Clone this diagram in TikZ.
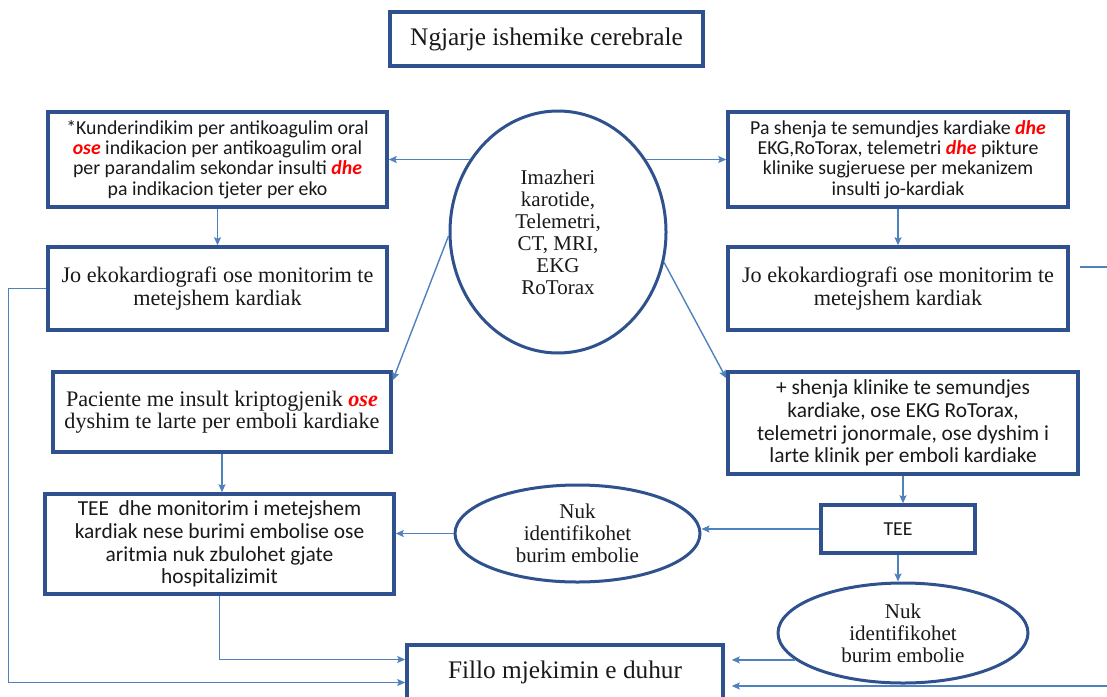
\documentclass[tikz,border=0pt]{standalone}
\usepackage{fontspec}
\setmainfont{Liberation Serif}
\newfontfamily\calfont{Carlito}
\usetikzlibrary{shapes.geometric, arrows.meta}
\definecolor{boxblue}{RGB}{47, 82, 143}
\definecolor{linkblue}{RGB}{79, 129, 189}
\definecolor{inkgray}{RGB}{25, 25, 25}
\newcommand{\redword}[1]{\textcolor{red}{\textbf{\textit{#1}}}}
\newcommand{\serifbig}{\fontsize{25.3}{28}\selectfont}
\newcommand{\serifmid}{\fontsize{22.2}{22.5}\selectfont}
\newcommand{\serifoval}{\fontsize{21}{22}\selectfont}
\newcommand{\sansmid}{\calfont\fontsize{19.8}{20.3}\selectfont}
\newcommand{\sanswide}{\calfont\fontsize{21.4}{22.8}\selectfont}
\tikzset{
  sqbox/.style={draw=boxblue, line width=3.5pt, fill=white, text=inkgray, align=center, inner sep=0pt},
  ovalbox/.style={ellipse, draw=boxblue, line width=3pt, fill=white, text=inkgray, align=center, inner sep=0pt},
  conn/.style={draw=linkblue, line width=1.4pt},
  arr/.style={conn, -{Stealth[length=8pt, width=7pt, inset=1.5pt]}},
}

\begin{document}
\begin{tikzpicture}[x=1pt, y=-1pt]
  \useasboundingbox (0,0) rectangle (1107,696);

  % Event
  \node[sqbox, minimum width=313pt, minimum height=54pt, font=\serifbig] (start) at (546.5, 39) {Ngjarje ishemike cerebrale};

  % Tests
  \node[ovalbox, minimum width=216pt, minimum height=242pt, font=\serifoval] (tests) at (558, 232) {Imazheri\\karotide,\\Telemetri,\\CT, MRI,\\EKG\\RoTorax};

  % Left branch
  \node[sqbox, minimum width=339pt, minimum height=95pt, font=\sansmid] (noecho) at (217.5, 159.5) {
    *Kunderindikim per antikoagulim oral\\
    \redword{ose} indikacion per antikoagulim oral\\
    per parandalim sekondar insulti \redword{dhe}\\
    pa indikacion tjeter per eko
  };
  \node[sqbox, minimum width=339pt, minimum height=83pt, font=\serifmid] (nomonl) at (217.5, 288.5) {Jo ekokardiografi ose monitorim te\\metejshem kardiak};
  \node[sqbox, minimum width=338pt, minimum height=80pt, font=\serifmid] (crypto) at (222, 412) {
    Paciente me insult kriptogjenik \redword{ose}\\
    dyshim te larte per emboli kardiake
  };
  \node[sqbox, minimum width=349pt, minimum height=100pt, font=\sanswide] (teemon) at (219.5, 544) {
    TEE\ \ dhe monitorim i metejshem\\
    kardiak nese burimi embolise ose\\
    aritmia nuk zbulohet gjate\\
    hospitalizimit
  };

  % Right branch
  \node[sqbox, minimum width=340pt, minimum height=95pt, font=\sansmid] (nocard) at (898, 159.5) {
    Pa shenja te semundjes kardiake \redword{dhe}\\
    EKG,RoTorax, telemetri \redword{dhe} pikture\\
    klinike sugjeruese per mekanizem\\
    insulti jo-kardiak
  };
  \node[sqbox, minimum width=340pt, minimum height=83pt, font=\serifmid] (nomonr) at (898, 288.5) {Jo ekokardiografi ose monitorim te\\metejshem kardiak};
  \node[sqbox, minimum width=350pt, minimum height=102pt, font=\sanswide] (cardsign) at (903, 423) {
    + shenja klinike te semundjes\\
    kardiake, ose EKG RoTorax,\\
    telemetri jonormale, ose dyshim i\\
    larte klinik per emboli kardiake
  };
  \node[sqbox, minimum width=154pt, minimum height=48pt, font=\sansmid] (tee) at (898, 529) {TEE};
  \node[ovalbox, minimum width=245pt, minimum height=97pt, font=\serifoval] (nosrcl) at (577.5, 533.5) {Nuk\\identifikohet\\burim embolie};
  \node[ovalbox, minimum width=250pt, minimum height=100pt, font=\serifoval] (nosrcr) at (903, 633) {Nuk\\identifikohet\\burim embolie};

  % Treatment
  \node[sqbox, minimum width=316pt, minimum height=55pt, font=\serifbig] (treat) at (565, 672.5) {Fillo mjekimin e duhur};

  % Connectors
  \draw[arr] (tests.140 |- noecho) -- (noecho);
  \draw[arr] (tests.40 |- nocard) -- (nocard);
  \draw[arr] (noecho.south) -- (nomonl.north);
  \draw[arr] (nocard.south) -- (nomonr.north);
  \draw[arr] (tests.182) -- ([yshift=-10pt]crypto.north east);
  \draw[arr] (tests.-16) -- ([yshift=-8pt]cardsign.north west);
  \draw[arr] (crypto.south) -- (crypto.south |- teemon.north);
  \draw[arr] (cardsign.south) -- (cardsign.south |- tee.north);
  \draw[arr] (tee.west) -- (tee.west -| nosrcl.east);
  \draw[arr] (nosrcl.west) -- (nosrcl.west -| teemon.east);
  \draw[arr] (tee.south) -- (tee.south |- nosrcr.north);
  \draw[arr] (nomonl.west) -- ++(-38,0) |- ([yshift=-10pt]treat.west);
  \draw[arr] (teemon.south) |- ([yshift=13pt]treat.west);
  \draw[arr, shorten >=7pt] (nosrcr.194) -- (nosrcr.194 -| treat.east);
  \coordinate (redge) at (1107, 686);
  \draw[arr, shorten >=7pt] (redge) -- (redge -| treat.east);
  \coordinate (stub) at (1107, 267);
  \draw[conn] ([xshift=10pt]nomonr.east |- stub) -- (stub);
\end{tikzpicture}
\end{document}
